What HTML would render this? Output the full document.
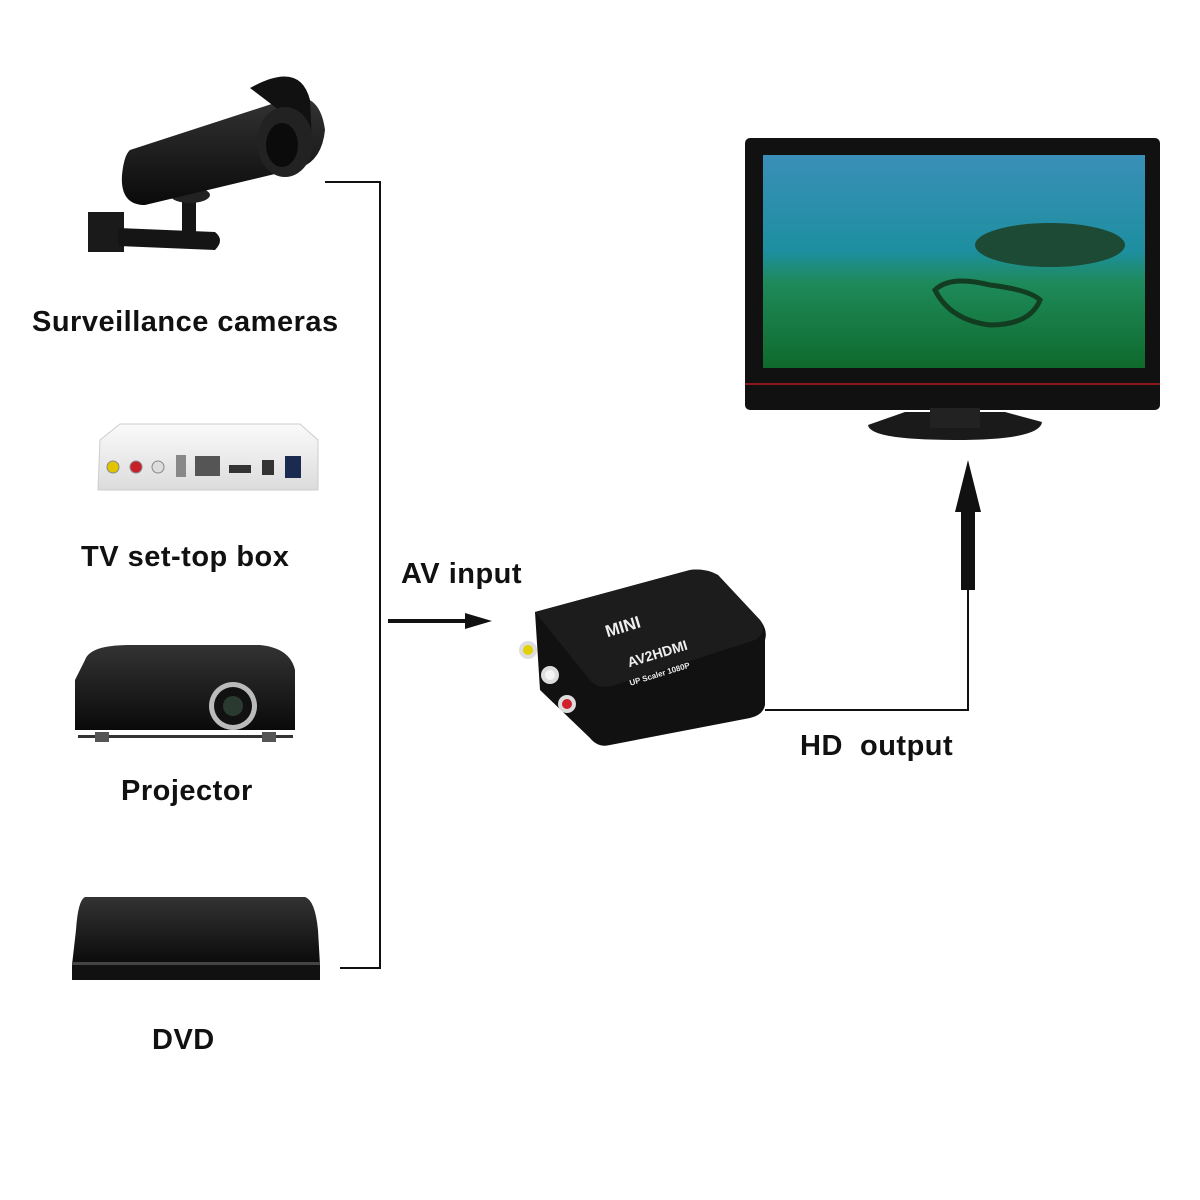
<!DOCTYPE html>
<html><head><style>
html,body{margin:0;padding:0;background:#fff;}
body{width:1200px;height:1200px;position:relative;overflow:hidden;}
.t{position:absolute;font-family:"Liberation Sans",sans-serif;font-weight:bold;font-size:29px;letter-spacing:0.5px;color:#111;white-space:nowrap;}
</style></head><body>
<svg width="1200" height="1200" style="position:absolute;left:0;top:0">
<defs>
<linearGradient id="sea" x1="0" y1="0" x2="0" y2="1">
<stop offset="0" stop-color="#3a8fb8"/><stop offset="0.45" stop-color="#1d8fa0"/><stop offset="0.6" stop-color="#1e8a5a"/><stop offset="1" stop-color="#0f6a2c"/>
</linearGradient>
<linearGradient id="blk" x1="0" y1="0" x2="0" y2="1"><stop offset="0" stop-color="#333"/><stop offset="1" stop-color="#0a0a0a"/></linearGradient>
<linearGradient id="wht" x1="0" y1="0" x2="0" y2="1"><stop offset="0" stop-color="#fafafa"/><stop offset="1" stop-color="#dcdcdc"/></linearGradient>
</defs>
<g stroke="#111" stroke-width="2" fill="none">
<polyline points="325,182 380,182 380,968 340,968"/>
<polyline points="765,710 968,710 968,590"/>
</g>
<line x1="388" y1="621" x2="470" y2="621" stroke="#111" stroke-width="4"/>
<polygon points="465,613 492,621 465,629" fill="#111"/>
<rect x="961" y="505" width="14" height="85" fill="#111"/>
<polygon points="955,512 968,460 981,512" fill="#111"/>
<!-- camera -->
<rect x="88" y="212" width="36" height="40" fill="#1a1a1a"/>
<path d="M118 228 L215 232 Q225 240 215 250 L118 246 Z" fill="#151515"/>
<rect x="182" y="192" width="14" height="45" fill="#151515"/>
<ellipse cx="190" cy="195" rx="20" ry="8" fill="#222"/>
<path d="M130 150 L290 98 Q320 92 325 130 Q322 160 300 168 L145 205 Q120 205 122 175 Q124 155 130 150Z" fill="url(#blk)"/>
<path d="M250 88 Q300 60 310 100 L312 140 Q300 150 292 120Z" fill="#111"/>
<ellipse cx="285" cy="142" rx="28" ry="35" fill="#222"/>
<ellipse cx="282" cy="145" rx="16" ry="22" fill="#0b0b0b"/>
<!-- set-top box -->
<path d="M100 440 L120 424 L300 424 L318 440 L318 490 L98 490Z" fill="url(#wht)" stroke="#ccc"/>
<circle cx="113" cy="467" r="6" fill="#e2c400" stroke="#888"/>
<circle cx="136" cy="467" r="6" fill="#c8202a" stroke="#888"/>
<circle cx="158" cy="467" r="6" fill="#ddd" stroke="#888"/>
<rect x="176" y="455" width="10" height="22" fill="#888"/>
<rect x="195" y="456" width="25" height="20" fill="#555"/>
<rect x="229" y="465" width="22" height="8" fill="#333"/>
<rect x="262" y="460" width="12" height="15" fill="#333"/>
<rect x="285" y="456" width="16" height="22" fill="#1a2a50"/>
<!-- projector -->
<path d="M85 660 Q90 645 130 645 L260 645 Q290 648 295 670 L295 730 L75 730 L75 680Z" fill="url(#blk)"/>
<rect x="78" y="735" width="215" height="3" fill="#333"/>
<rect x="95" y="732" width="14" height="10" fill="#555"/>
<rect x="262" y="732" width="14" height="10" fill="#555"/>
<circle cx="233" cy="706" r="24" fill="#bbb"/>
<circle cx="233" cy="706" r="19" fill="#111"/>
<circle cx="233" cy="706" r="10" fill="#2a3a30"/>
<!-- DVD -->
<path d="M85 897 L305 897 Q315 900 318 930 L320 965 L72 965 L76 930 Q78 900 85 897Z" fill="url(#blk)"/>
<rect x="72" y="965" width="248" height="15" fill="#111"/>
<rect x="72" y="962" width="248" height="3" fill="#444"/>
<!-- converter -->
<path d="M535 612 L690 570 Q705 568 718 575 L760 620 Q768 630 765 640 L765 705 Q763 715 750 718 L610 745 Q598 748 590 738 L540 690Z" fill="#111"/>
<path d="M535 612 L690 570 Q705 568 718 575 L760 620 Q768 632 755 640 L615 685 Q598 690 590 680Z" fill="#1c1c1c"/>
<circle cx="528" cy="650" r="9" fill="#ddd"/><circle cx="528" cy="650" r="5" fill="#e2d000"/>
<circle cx="550" cy="675" r="9" fill="#ddd"/><circle cx="550" cy="675" r="5" fill="#f5f5f5"/>
<circle cx="567" cy="704" r="9" fill="#ddd"/><circle cx="567" cy="704" r="5" fill="#d0202a"/>
<g transform="rotate(-17 650 640)" font-family="Liberation Sans,sans-serif" font-weight="bold" fill="#eee">
<text x="610" y="625" font-size="17">MINI</text>
<text x="622" y="660" font-size="14">AV2HDMI</text>
<text x="618" y="678" font-size="8">UP Scaler 1080P</text>
</g>
<!-- TV -->
<rect x="745" y="138" width="415" height="272" rx="5" fill="#111"/>
<rect x="763" y="155" width="382" height="213" fill="url(#sea)"/>
<ellipse cx="1050" cy="245" rx="75" ry="22" fill="#1d4a34"/>
<path d="M935 290 Q950 275 990 285 Q1030 290 1040 300 Q1030 325 990 325 Q950 320 935 290Z" fill="none" stroke="#123d20" stroke-width="5"/>
<rect x="745" y="383" width="415" height="2" fill="#8a1a1a"/>
<path d="M905 412 L1005 412 L1042 422 Q1040 440 955 440 Q870 440 868 425Z" fill="#1a1a1a"/>
<rect x="930" y="408" width="50" height="20" fill="#222"/>
</svg>
<div class="t" style="left:32px;top:306px;">Surveillance cameras</div>
<div class="t" style="left:81px;top:541px;">TV set-top box</div>
<div class="t" style="left:401px;top:558px;">AV input</div>
<div class="t" style="left:121px;top:775px;">Projector</div>
<div class="t" style="left:800px;top:730px;">HD&nbsp; output</div>
<div class="t" style="left:152px;top:1024px;">DVD</div>
</body></html>
